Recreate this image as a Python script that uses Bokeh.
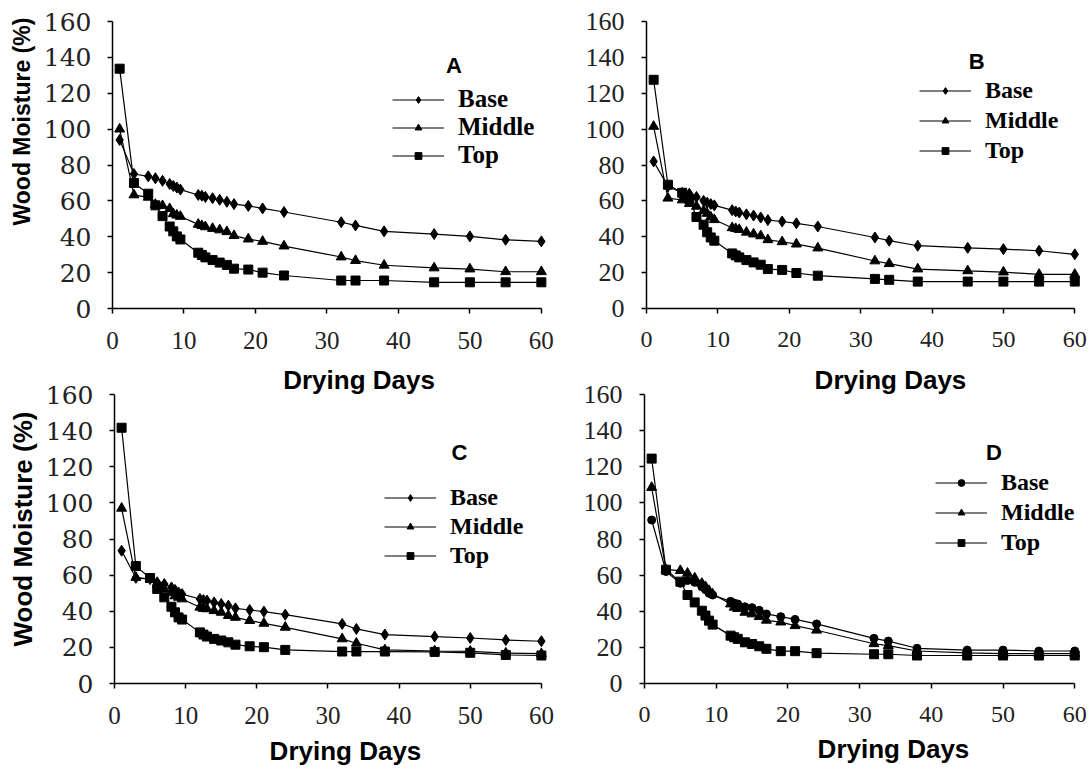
from bokeh.plotting import figure
from bokeh.layouts import column, row
from bokeh.models import Range1d, FixedTicker, Label, Legend, LegendItem, Title
from bokeh.embed import file_html
from bokeh.resources import INLINE

# ---------------- data ----------------
days = [1, 3, 5, 6, 7, 8, 8.5, 9, 9.5, 12, 12.5, 13, 14, 15, 16, 17, 19, 21, 24, 32, 34, 38, 45, 50, 55, 60]

a_base = [94, 75, 73.7, 72.6, 71.2, 69.4, 68.3, 67.4, 66.3, 63.3, 62.9, 62.2, 61.5, 60.6, 59.5, 58.2, 57.2, 55.8, 53.8, 48.1, 46.3, 43, 41.5, 40.2, 38.3, 37.4]
a_middle = [100, 63.3, 62, 58, 57.3, 55.6, 52.8, 52, 51.3, 46.9, 46.2, 45.5, 44.6, 43.8, 42.8, 40.6, 38.7, 37.4, 34.8, 28.7, 26.7, 24.1, 22.6, 22, 20.5, 20.5]
a_top = [133.7, 70, 64, 57.5, 51.5, 45.7, 43, 40.2, 38.5, 31.1, 29.8, 28.5, 27, 25.6, 24.3, 22.2, 21.7, 20, 18.4, 15.6, 15.6, 15.6, 14.6, 14.6, 14.6, 14.6]

b_base = [82, 68, 64.5, 64, 62.2, 60, 59, 58.2, 57.5, 54.8, 54.1, 53.5, 52.5, 51.8, 50.7, 49.3, 48.5, 47.5, 45.7, 39.6, 37.8, 35, 33.8, 33.1, 32.2, 30.2]
b_middle = [101.5, 61.5, 60.5, 58.5, 57, 54.5, 53, 51, 49.5, 45, 44.5, 44, 42.5, 41.5, 40.5, 38.3, 37.2, 35.9, 33.7, 26.5, 25, 22, 21, 20.3, 19, 19]
b_top = [127.5, 69, 64.5, 61, 51, 46.7, 42.5, 39.6, 37.8, 30.7, 29.6, 28.5, 27, 25.7, 24.4, 22, 21.5, 19.8, 18.3, 16.5, 16, 15, 15, 15, 15, 15]

c_base = [73.5, 58.5, 57.8, 56, 55.1, 53.2, 51.8, 50.4, 49.5, 46.8, 46.2, 45.9, 44.9, 44, 43.1, 41.6, 40.7, 39.8, 38.1, 33, 30.2, 27.1, 26, 25.2, 24.1, 23.4]
c_middle = [97, 58.7, 57.8, 55, 52.3, 50.4, 48.5, 47.7, 46.8, 42.2, 41.5, 41.3, 40.3, 39.4, 37.6, 36.6, 34.8, 33.3, 31.1, 24.7, 22.3, 18.6, 18, 17.8, 16.8, 16.5]
c_top = [141.6, 65, 58.4, 52.3, 47.7, 42.5, 39.4, 36.6, 35.4, 28.3, 27.1, 26, 24.7, 23.8, 22.8, 21.5, 20.6, 20.1, 18.6, 17.7, 17.7, 17.7, 17.5, 17, 15.8, 15.5]

d_base = [90.5, 62, 55.5, 57, 56, 53.5, 52, 50, 49, 45.5, 44.5, 44, 42.5, 42, 40.5, 38.5, 37, 35.5, 33, 25, 23.5, 19.5, 18.5, 18.5, 18, 18]
d_middle = [108.5, 63, 62.5, 61, 58.4, 55.4, 53.6, 51.4, 49.5, 44, 42.2, 41.5, 39.4, 38.5, 37, 35, 34, 32, 29.5, 22, 21, 18, 17, 16.5, 16.5, 16.5]
d_top = [124.5, 63, 56.4, 49, 44.9, 40.3, 37.6, 34.8, 32.6, 26.5, 25.6, 24.7, 22.8, 21.9, 20.6, 19.2, 17.9, 17.9, 16.8, 16.2, 16.2, 15.5, 15.5, 15.5, 15.5, 15.5]

series_names = ["Base", "Middle", "Top"]
x_ticks = [0, 10, 20, 30, 40, 50, 60]
y_ticks = [0, 20, 40, 60, 80, 100, 120, 140, 160]
x_title = "Drying Days"
y_title = "Wood Moisture (%)"

# ---------------- layout / style per panel ----------------
# The x-axis title of each upper panel sits in the gap between the rows, so it is
# carried by the lower panel's top border (same horizontal frame as the upper panel).
panels = [
    dict(letter="A", data=(a_base, a_middle, a_top), markers=("diamond", "triangle", "square"),
         width=580, height=354, left=110, right=32, top=21, bottom=45, xend=61,
         ylab_font="DejaVu Serif", ylab_size="25px", ylab_standoff=16, xlab_size="25px",
         letter_xy=(47.77, 135.6), below_title=None, above_title=None,
         ytitle=(83, 12, "23px"),
         legend_loc=(280, 139), legend_font="25px", legend_h=28),
    dict(letter="B", data=(b_base, b_middle, b_top), markers=("diamond", "triangle", "square"),
         width=510, height=354, left=66, right=10, top=20, bottom=46, xend=60.8,
         ylab_font="Liberation Serif", ylab_size="26px", ylab_standoff=17, xlab_size="24px",
         letter_xy=(46.26, 137.8), below_title=None, above_title=None, ytitle=None,
         legend_loc=(273, 143), legend_font="24px", legend_h=30),
    dict(letter="C", data=(c_base, c_middle, c_top), markers=("diamond", "triangle", "square"),
         width=580, height=418, left=110, right=32, top=40, bottom=89, xend=61,
         ylab_font="DejaVu Serif", ylab_size="25px", ylab_standoff=16, xlab_size="25px",
         letter_xy=(48.47, 127.9), below_title=(155.1, 14), above_title=(168.7, 0),
         ytitle=(37, 10, "26px"),
         legend_loc=(270, 113), legend_font="24px", legend_h=29),
    dict(letter="D", data=(d_base, d_middle, d_top), markers=("circle", "triangle", "square"),
         width=510, height=418, left=63, right=10, top=40, bottom=89, xend=60.8,
         ylab_font="Liberation Serif", ylab_size="26px", ylab_standoff=17, xlab_size="24px",
         letter_xy=(48.73, 127.9), below_title=(173.1, 14), above_title=(170.1, 0),
         ytitle=None,
         legend_loc=(291, 126), legend_font="24px", legend_h=30),
]

marker_sizes = {"diamond": 11, "triangle": 10, "square": 9, "circle": 8}


def axis_title(text, offset, standoff, size="26px"):
    return Title(text=text, align="left", offset=offset, standoff=standoff,
                 vertical_align="bottom", text_font="Liberation Sans",
                 text_font_style="bold", text_font_size=size, text_color="black")


def make_panel(cfg):
    p = figure(width=cfg["width"], height=cfg["height"], output_backend="svg",
               toolbar_location=None, x_range=Range1d(0, cfg["xend"]), y_range=Range1d(0, 160),
               min_border_left=cfg["left"], min_border_right=cfg["right"],
               min_border_top=cfg["top"], min_border_bottom=cfg["bottom"])
    p.outline_line_color = None
    p.background_fill_color = "white"
    p.border_fill_color = "white"
    p.grid.visible = False

    xa = p.xaxis[0]
    xa.ticker = FixedTicker(ticks=x_ticks)
    xa.bounds = (0, 60)
    ya = p.yaxis[0]
    ya.ticker = FixedTicker(ticks=y_ticks)
    for ax in (xa, ya):
        ax.axis_line_color = "black"
        ax.axis_line_width = 1.5
        ax.major_tick_line_color = "black"
        ax.major_tick_line_width = 1.5
        ax.major_tick_in = 0
        ax.major_tick_out = 5
        ax.minor_tick_line_color = None
        ax.major_label_text_color = "#222222"
    xa.major_label_text_font = "Liberation Serif"
    xa.major_label_text_font_size = cfg["xlab_size"]
    xa.major_label_standoff = 18
    ya.major_label_text_font = cfg["ylab_font"]
    ya.major_label_text_font_size = cfg["ylab_size"]
    ya.major_label_standoff = cfg["ylab_standoff"]

    items = []
    for name, vals, mk in zip(series_names, cfg["data"], cfg["markers"]):
        lr = p.line(days, vals, line_color="black", line_width=1.2)
        sr = p.scatter(days, vals, marker=mk, size=marker_sizes[mk],
                       fill_color="black", line_color="black")
        items.append(LegendItem(label=name, renderers=[lr, sr]))

    leg = Legend(items=items, location=cfg["legend_loc"],
                 background_fill_alpha=0, border_line_alpha=0,
                 padding=0, margin=0, spacing=0,
                 glyph_width=52, glyph_height=17, label_height=cfg["legend_h"],
                 label_standoff=14,
                 label_text_font="Liberation Serif", label_text_font_style="bold",
                 label_text_font_size=cfg["legend_font"], label_text_color="black")
    p.add_layout(leg)

    lx, ly = cfg["letter_xy"]
    p.add_layout(Label(x=lx, y=ly, text=cfg["letter"], text_align="center",
                       text_baseline="middle", text_font="Liberation Sans",
                       text_font_style="bold", text_font_size="22px", text_color="black"))

    if cfg["below_title"] is not None:
        off, sto = cfg["below_title"]
        p.add_layout(axis_title(x_title, off, sto), "below")
    if cfg["above_title"] is not None:
        off, sto = cfg["above_title"]
        p.add_layout(axis_title(x_title, off, sto), "above")
    if cfg["ytitle"] is not None:
        yoff, ysto, ysize = cfg["ytitle"]
        p.add_layout(axis_title(y_title, yoff, ysto, ysize), "left")
    return p


figs = [make_panel(c) for c in panels]
layout = column(row(figs[0], figs[1], spacing=0), row(figs[2], figs[3], spacing=0), spacing=0)

open("out.html", "w").write(file_html(layout, INLINE))
